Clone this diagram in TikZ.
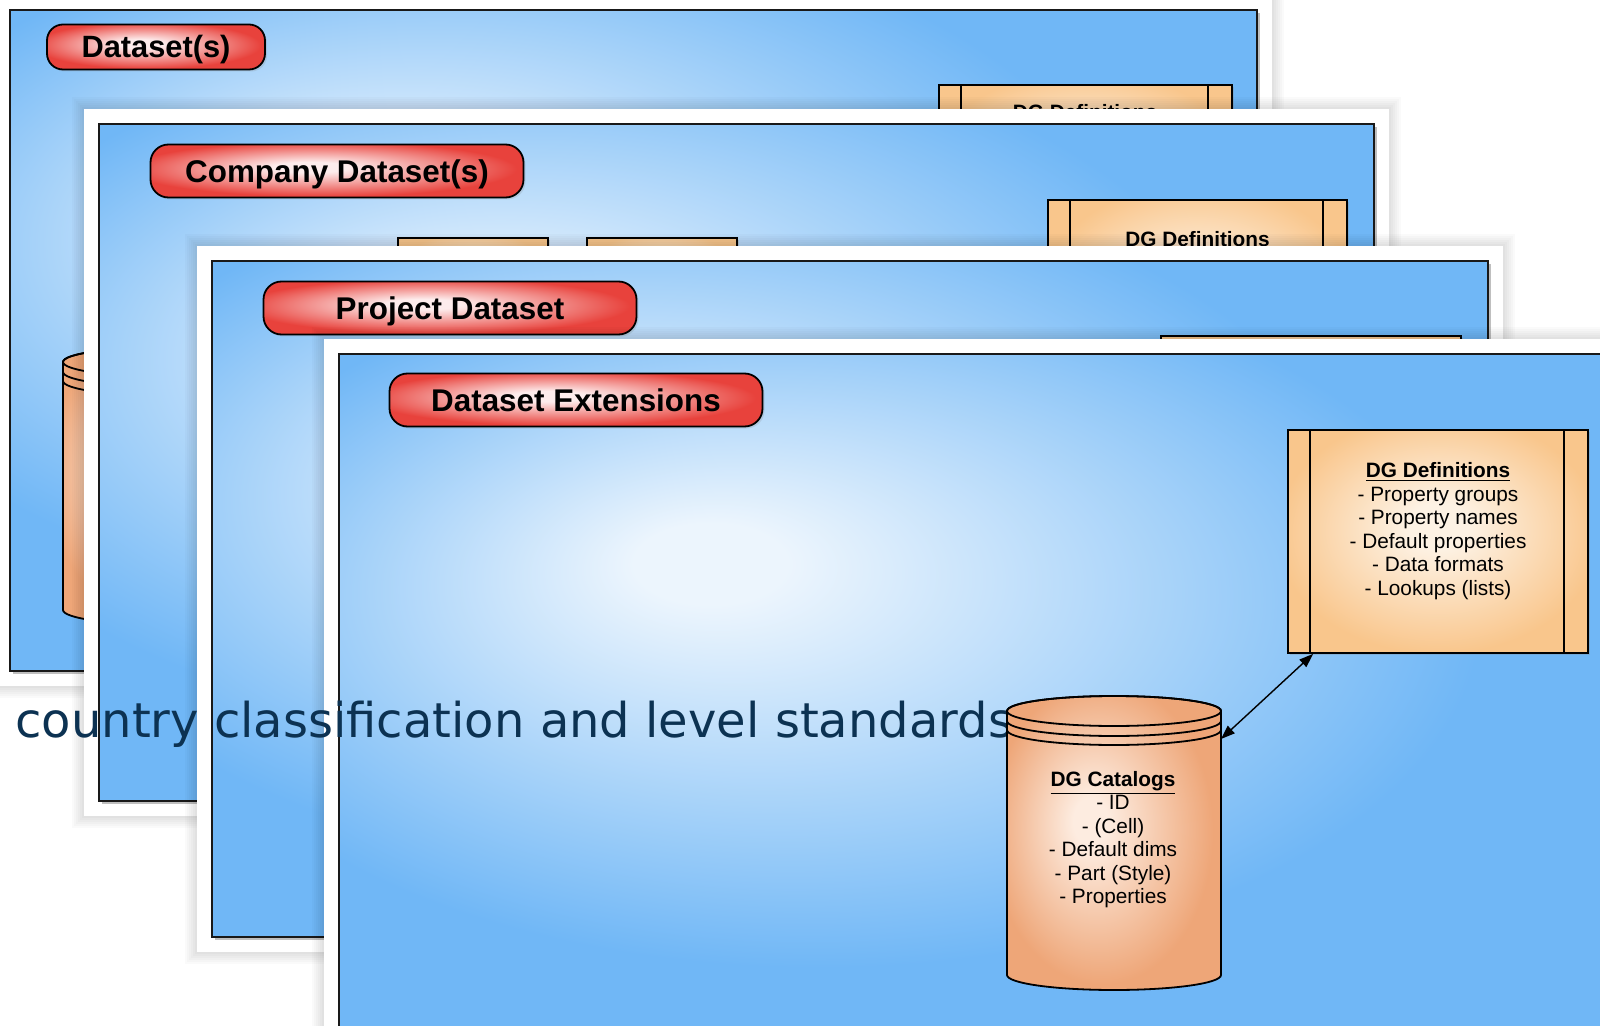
\documentclass[tikz,border=0pt]{standalone}
\usepackage{fontspec}
\setmainfont{Liberation Sans}
\newfontfamily\notefont{DejaVu Sans}
\usetikzlibrary{positioning}
\usetikzlibrary{arrows.meta}
\usetikzlibrary{shadows}

\definecolor{panelEdge}{RGB}{112,183,246}
\definecolor{panelGlow}{RGB}{236,245,253}
\definecolor{tagRed}{RGB}{232,66,60}
\definecolor{tagGlow}{RGB}{253,236,236}
\definecolor{boxEdge}{RGB}{249,198,140}
\definecolor{boxGlow}{RGB}{253,242,228}
\definecolor{cylEdge}{RGB}{238,166,120}
\definecolor{cylGlow}{RGB}{253,236,224}
\definecolor{noteInk}{RGB}{12,50,82}

\pgfdeclareradialshading{panelglow}{\pgfpoint{-11bp}{10bp}}{color(0bp)=(panelGlow); color(3bp)=(panelGlow); color(26bp)=(panelEdge); color(60bp)=(panelEdge)}
\pgfdeclareradialshading{tagglow}{\pgfpoint{-4bp}{4bp}}{color(0bp)=(tagGlow); color(5bp)=(tagGlow); color(26bp)=(tagRed); color(50bp)=(tagRed)}
\pgfdeclareradialshading{boxglow}{\pgfpoint{0bp}{4bp}}{color(0bp)=(boxGlow); color(5bp)=(boxGlow); color(27bp)=(boxEdge); color(50bp)=(boxEdge)}
\pgfdeclareradialshading{cylglow}{\pgfpoint{-6bp}{4bp}}{color(0bp)=(cylGlow); color(4bp)=(cylGlow); color(26bp)=(cylEdge); color(50bp)=(cylEdge)}

\tikzset{
  panel/.style={shading=panelglow, draw=black!90, line width=1pt},
  tag/.style={shading=tagglow, draw=black, line width=.9pt, rounded corners=9pt,
    minimum width=186.5pt, minimum height=26.5pt, inner sep=0pt,
    text height=11.2pt, text depth=0pt,
    drop shadow={shadow xshift=1pt, shadow yshift=-1pt, opacity=.2},
    font=\fontsize{15.7}{18}\selectfont\bfseries},
  subbox/.style={shading=boxglow, draw=black, line width=.9pt, inner sep=0pt,
    drop shadow={shadow xshift=1pt, shadow yshift=-1pt, opacity=.25}},
  dgbox/.style={subbox, minimum width=150pt, minimum height=111.5pt,
    path picture={
      \draw[line width=.9pt] ([xshift=11pt]path picture bounding box.north west) -- ([xshift=11pt]path picture bounding box.south west);
      \draw[line width=.9pt] ([xshift=-12pt]path picture bounding box.north east) -- ([xshift=-12pt]path picture bounding box.south east);
    }},
  boxtext/.style={align=center, inner sep=0pt, font=\fontsize{10.4}{11.75}\selectfont},
  link/.style={{Triangle[length=7pt,width=5pt]}-{Triangle[length=7pt,width=5pt]}, line width=.7pt},
  note/.style={text=noteInk, inner sep=0pt, font=\notefont\fontsize{24}{28}\selectfont}
}

% panel: soft halo, white frame, shadow, shaded sheet
\newcommand{\panelframe}[4]{%
  \foreach \d in {2,4,...,12}
    \fill[black, opacity=.02] (#1-15-\d,#2-15-\d) rectangle (#3+15+\d,#4+15+\d);
  \fill[white] (#1-15,#2-15) rectangle (#3+15,#4+15);
  \fill[black, opacity=.25] (#1+3,#2+3) rectangle (#3+3,#4+3);
  \draw[panel] (#1,#2) rectangle (#3,#4);
}
% cylinder: centre x, cap y, base y
\newcommand{\dgcylinder}[3]{%
  \path[shading=cylglow, draw=black, line width=.9pt] (#1-107,#2) -- (#1-107,#3)
    arc[start angle=180, end angle=0, x radius=107, y radius=15] -- (#1+107,#2)
    arc[start angle=0, end angle=-180, x radius=107, y radius=15] -- cycle;
  \draw[line width=.9pt] (#1,#2) ellipse[x radius=107, y radius=15];
  \draw[line width=.9pt] (#1-107,#2+10) arc[start angle=180, end angle=0, x radius=107, y radius=15];
  \draw[line width=.9pt] (#1-107,#2+19) arc[start angle=180, end angle=0, x radius=107, y radius=15];
}

\begin{document}
\begin{tikzpicture}[x=0.5pt, y=-0.5pt]
\useasboundingbox (0,0) rectangle (1600,1026);
\clip (0,0) rectangle (1600,1026);

% Dataset(s)
\panelframe{10}{10}{1257}{671}
\node[tag, minimum width=109pt, minimum height=22.5pt, rounded corners=8pt, text height=11pt, font=\fontsize{15.4}{18}\selectfont\bfseries] (datasets) at (156,47) {Dataset(s)};
\node[dgbox, minimum width=146.5pt, minimum height=100pt] (defs1) at (1085.5,185) {};
\node[boxtext, font=\fontsize{10.4}{11.75}\selectfont\bfseries] (defs1title) at (1085,112) {DG Definitions};
\dgcylinder{170}{362}{610}

% Company Dataset(s)
\panelframe{99}{124}{1374}{801}
\node[tag] (company) at (337,171) {Company Dataset(s)};
\node[subbox, minimum width=75pt, minimum height=50pt] (part2a) at (473,288) {};
\node[subbox, minimum width=75pt, minimum height=50pt] (part2b) at (662,288) {};
\node[dgbox, minimum width=149.5pt] (defs2) at (1197.5,311.5) {};
\node[boxtext, below=16pt of defs2.north] (defs2title) {\underline{\textbf{DG Definitions}}};

% Project Dataset
\panelframe{212}{261}{1488}{937}
\node[tag] (project) at (450,308) {Project Dataset};
\node[subbox, minimum width=150pt, minimum height=111.5pt] (defs3) at (1311,447.5) {};

% Dataset Extensions
\panelframe{339}{354}{1615}{1031}
\node[tag] (extensions) at (576,400) {Dataset Extensions};
\node[dgbox] (defs4) at (1438,541.5) {};
\node[boxtext, below=16.5pt of defs4.north] (defs4list) {\underline{\textbf{DG Definitions}}\\
  - Property groups\\ - Property names\\ - Default properties\\ - Data formats\\ - Lookups (lists)};

\node[note, anchor=base west] (caption) at (15,737) {country classification and level standards};

\dgcylinder{1114}{711}{975}
\node[boxtext, anchor=north] (catalogs) at (1113,771) {\underline{\textbf{DG Catalogs}}\\
  - ID\\ - (Cell)\\ - Default dims\\ - Part (Style)\\ - Properties};
\coordinate (catalogsPort) at (1221,739);
\draw[link] (catalogsPort) -- ([xshift=13pt]defs4.south west);
\end{tikzpicture}
\end{document}
